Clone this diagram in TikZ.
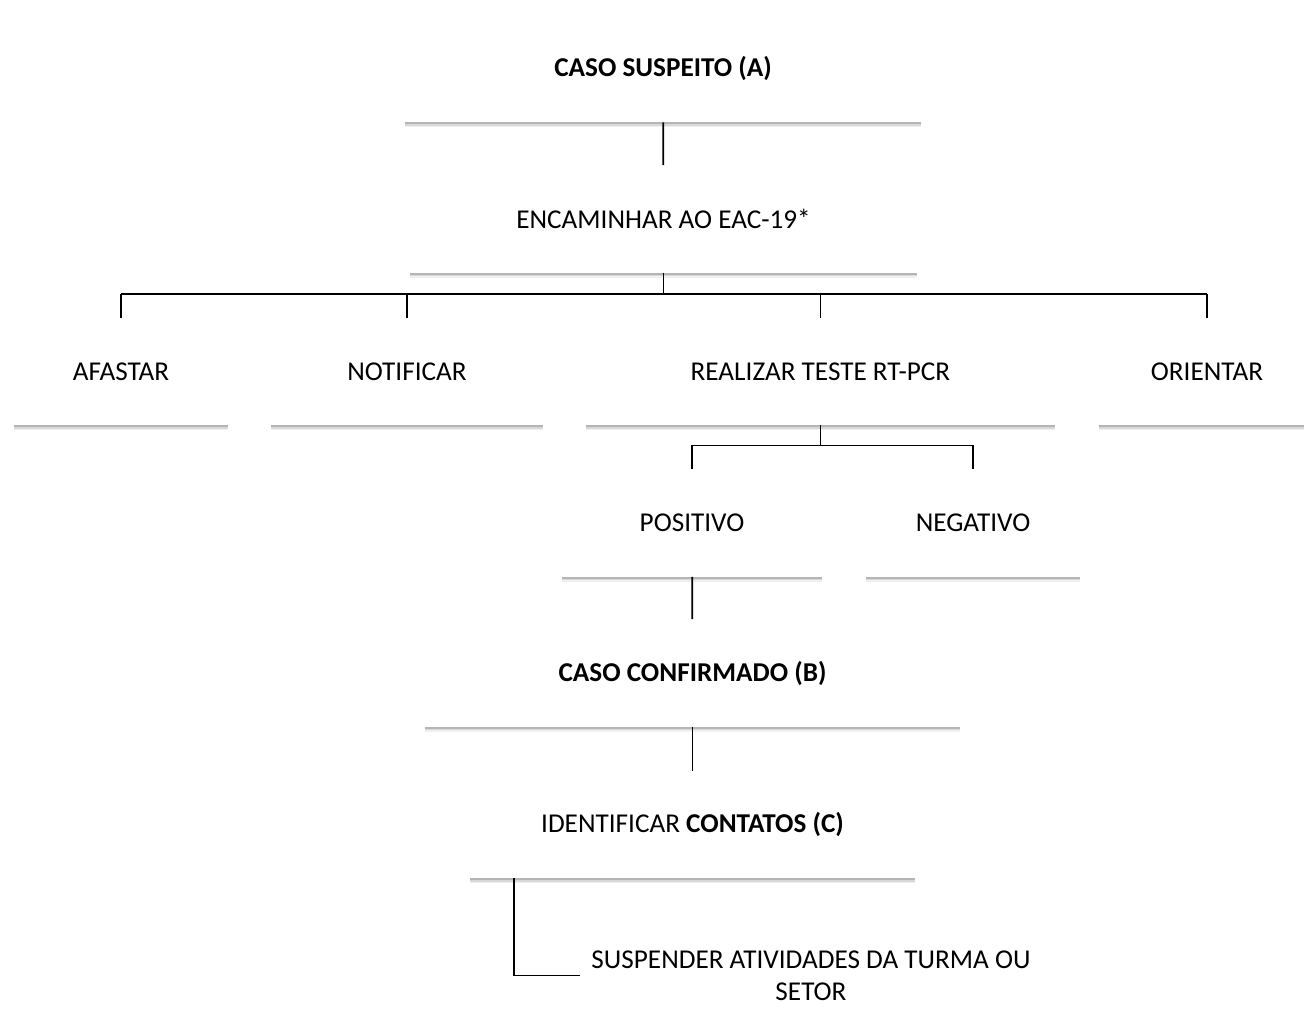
\documentclass[tikz,border=0pt]{standalone}
\usepackage{fontspec}
\setmainfont{Carlito}
\usetikzlibrary{shadows}

\begin{document}
\begin{tikzpicture}[x=0.5pt,y=-0.5pt,
	box/.style={fill=white,minimum height=53.5pt,align=center,inner sep=2pt,font=\fontsize{13.6pt}{16pt}\selectfont,
		drop shadow={shadow xshift=0pt,shadow yshift=-2.6pt,fill=black,opacity=0.06},
		drop shadow={shadow xshift=0pt,shadow yshift=-1.9pt,fill=black,opacity=0.1},
		drop shadow={shadow xshift=0pt,shadow yshift=-1.2pt,fill=black,opacity=0.16}},
	link/.style={draw,black,line width=0.9pt}]
	\useasboundingbox (0,0) rectangle (1304,1027);
	\node[box,minimum width=258pt] (suspeito) at (663,68.5) {\bfseries CASO SUSPEITO (A)};
	\node[box,minimum width=253.5pt] (encaminhar) at (663.5,219) {ENCAMINHAR AO EAC-19*};
	\node[box,minimum width=107pt] (afastar) at (121,371.5) {AFASTAR};
	\node[box,minimum width=136pt] (notificar) at (407,371.5) {NOTIFICAR};
	\node[box,minimum width=234.5pt] (teste) at (820.5,371.5) {REALIZAR TESTE RT-PCR};
	\node[box,minimum width=108pt] (orientar) at (1207,371.5) {ORIENTAR};
	\node[box,minimum width=130pt] (positivo) at (692,523) {POSITIVO};
	\node[box,minimum width=107pt] (negativo) at (973,523) {NEGATIVO};
	\node[box,minimum width=267.5pt] (confirmado) at (692.5,673) {\bfseries CASO CONFIRMADO (B)};
	\node[box,minimum width=222.5pt] (contatos) at (692.5,824.5) {IDENTIFICAR \textbf{CONTATOS (C)}};
	\node[box,minimum width=231pt] (suspender) at (811,975.5) {SUSPENDER ATIVIDADES DA TURMA OU\\SETOR};

	\coordinate (bus1) at ([yshift=-10.5pt]encaminhar.south);
	\coordinate (bus2) at ([yshift=-10pt]teste.south);
	\path[link] (suspeito) -- (encaminhar);
	\path[link] (encaminhar.south) -- (bus1) (bus1 -| afastar.north) -- (bus1 -| orientar.north);
	\foreach \n in {afastar,notificar,teste,orientar}
		\path[link] (bus1 -| \n.north) -- (\n.north);
	\path[link] (teste.south) -- (bus2) (bus2 -| positivo.north) -- (bus2 -| negativo.north);
	\foreach \n in {positivo,negativo}
		\path[link] (bus2 -| \n.north) -- (\n.north);
	\path[link] (positivo) -- (confirmado);
	\path[link] (confirmado) -- (contatos);
	\path[link] ([xshift=22pt]contatos.south west) |- (suspender.west);
\end{tikzpicture}
\end{document}
